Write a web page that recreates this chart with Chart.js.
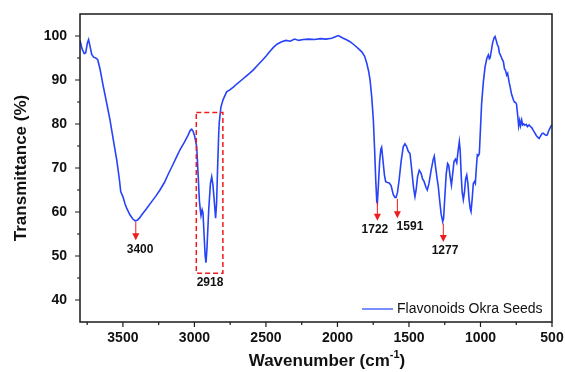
<!DOCTYPE html>
<html>
<head>
<meta charset="utf-8">
<script src="https://cdn.jsdelivr.net/npm/chart.js@4.4.0/dist/chart.umd.min.js"></script>
<style>
  html, body { margin: 0; padding: 0; background: #fff; }
  #wrap { width: 565px; height: 372px; }
</style>
</head>
<body>
<div id="wrap"><canvas id="ftir"></canvas></div>
<script>
// --- data ---
const wavenumbers = [
  3800, 3785, 3770, 3760, 3748, 3740, 3732, 3718, 3705, 3690, 3676, 3660, 3640, 3615, 3590, 3565,
  3543, 3525, 3515, 3500, 3485, 3473, 3450, 3430, 3415, 3400, 3385, 3365, 3334, 3300, 3270, 3241,
  3210, 3180, 3150, 3124, 3100, 3070, 3045, 3030, 3019, 3010, 2998, 2984, 2975, 2965, 2958, 2954,
  2946, 2940, 2932, 2925, 2919, 2912, 2900, 2888, 2879, 2870, 2860, 2852, 2845, 2838, 2830, 2826,
  2815, 2800, 2775, 2750, 2728, 2700, 2670, 2640, 2615, 2588, 2560, 2530, 2500, 2470, 2448, 2420,
  2390, 2360, 2330, 2300, 2270, 2240, 2200, 2160, 2120, 2080, 2040, 2010, 1995, 1982, 1960, 1940,
  1912, 1880, 1850, 1830, 1810, 1795, 1782, 1772, 1760, 1749, 1740, 1732, 1725, 1721, 1714, 1705,
  1697, 1691, 1684, 1672, 1663, 1650, 1638, 1625, 1610, 1598, 1590, 1580, 1568, 1555, 1540, 1528,
  1518, 1505, 1493, 1482, 1468, 1458, 1450, 1440, 1428, 1415, 1405, 1395, 1380, 1372, 1360, 1345,
  1330, 1323, 1315, 1305, 1295, 1285, 1275, 1264, 1258, 1250, 1240, 1230, 1222, 1212, 1203, 1195,
  1185, 1175, 1166, 1158, 1148, 1142, 1135, 1128, 1120, 1112, 1104, 1096, 1088, 1080, 1072, 1066,
  1058, 1050, 1042, 1036, 1028, 1022, 1015, 1008, 1000, 992, 980, 968, 955, 945, 938, 933,
  925, 915, 905, 898, 890, 882, 875, 868, 858, 850, 840, 832, 825, 817, 810, 800,
  793, 783, 775, 770, 763, 755, 748, 740, 733, 726, 720, 712, 705, 698, 690, 680,
  672, 660, 650, 642, 630, 620, 610, 600, 590, 580, 570, 561, 550, 540, 533, 525,
  515, 502
];
const transmittance = [
  99.0, 97.0, 96.0, 96.2, 98.5, 99.2, 98.0, 95.8, 95.2, 95.0, 94.6, 92.5, 89.0, 85.0, 80.9, 76.0,
  71.8, 67.5, 64.6, 63.5, 61.8, 60.8, 59.3, 58.4, 58.0, 58.1, 58.6, 59.5, 60.8, 62.3, 63.6, 65.0,
  66.7, 68.8, 70.8, 72.6, 74.2, 75.9, 77.4, 78.5, 78.8, 78.4, 77.2, 74.8, 69.0, 62.5, 60.2, 59.2,
  60.5, 59.8, 54.5, 50.0, 48.5, 52.0, 60.5, 66.5, 68.0, 66.0, 62.0, 58.6, 62.0, 70.0, 78.0, 80.5,
  83.8, 85.5, 87.3, 87.8, 88.4, 89.2, 90.0, 90.8, 91.5, 92.3, 93.3, 94.3, 95.4, 96.6, 97.4, 98.2,
  98.7, 99.0, 98.8, 99.3, 99.0, 99.2, 99.3, 99.2, 99.4, 99.3, 99.5, 99.9, 100.1, 99.9, 99.5, 99.2,
  98.7, 97.9, 97.0, 96.4, 95.4, 93.8, 92.0, 90.0, 86.0, 80.9, 74.0, 67.0, 62.3, 62.0, 66.0, 71.5,
  74.2, 74.7, 72.5, 68.5, 66.9, 66.7, 66.6, 66.0, 64.0, 63.3, 63.3, 64.5, 67.5, 71.5, 74.8, 75.5,
  75.0, 73.8, 73.3, 70.0, 65.5, 63.5, 65.0, 68.0, 69.5, 68.8, 67.5, 67.0, 65.5, 65.0, 66.5, 69.5,
  72.0, 72.7, 70.5, 68.0, 65.8, 62.5, 59.5, 57.8, 58.5, 63.0, 68.5, 71.0, 70.6, 68.0, 66.1, 68.5,
  71.5, 72.0, 71.2, 73.5, 76.0, 74.0, 68.5, 64.5, 62.8, 64.5, 67.5, 68.4, 66.5, 63.0, 60.8, 60.1,
  63.0, 66.5, 66.9, 66.5, 70.5, 73.0, 72.8, 73.3, 79.0, 84.7, 89.5, 93.0, 95.0, 95.7, 94.8, 95.0,
  96.5, 98.5, 99.6, 99.9, 99.0, 98.0, 97.6, 96.2, 95.5, 94.8, 94.2, 92.5, 92.2, 91.1, 91.5, 89.5,
  88.5, 86.8, 86.0, 85.5, 85.0, 84.9, 84.5, 82.0, 79.5, 80.8, 79.6, 80.9, 79.8, 80.0, 79.7, 79.9,
  79.4, 79.8, 79.4, 79.2, 78.5, 78.0, 77.4, 77.0, 76.7, 77.3, 77.8, 77.9, 77.6, 77.4, 77.5, 78.3,
  79.0, 79.8
];
const seriesLabel = 'Flavonoids Okra Seeds';

const xTicks = [3500, 3000, 2500, 2000, 1500, 1000, 500];
const xMinorTicks = [3750, 3250, 2750, 2250, 1750, 1250, 750];
const yTicks = [40, 50, 60, 70, 80, 90, 100];
const yMinorTicks = [45, 55, 65, 75, 85, 95];

// peak markers (arrow from top to bottom, label below), in data units
const peakLabels = ['3400', '1722', '1591', '1277'];
const peakArrowX = [3410, 1721, 1581, 1260];
const peakArrowTop = [57.8, 62.3, 63.0, 57.4];
const peakArrowBottom = [53.6, 58.0, 58.6, 53.2];
const peakLabelX = [3380, 1738, 1493, 1248];
const peakLabelY = [51.5, 55.9, 56.7, 51.2];

// dashed box round the C-H stretch
const boxX = [2987, 2801];
const boxY = [82.6, 46.1];
const boxLabel = '2918';
const boxLabelX = 2891;
const boxLabelY = 43.9;

const FONT = '"Liberation Sans", Arial, Helvetica, sans-serif';
const LINE_BLUE = '#2643f7';
const RED = '#ee1c1c';

// draws frame, ticks + labels, axis titles, annotations and the legend
const decorations = {
  id: 'decorations',
  afterDatasetsDraw(chart) {
    const { ctx, chartArea: a, scales: { x, y } } = chart;
    ctx.save();

    // frame
    ctx.strokeStyle = '#1a1a1a';
    ctx.lineWidth = 1.5;
    ctx.strokeRect(a.left, a.top, a.right - a.left, a.bottom - a.top);

    // ticks (outward)
    ctx.lineWidth = 1.2;
    ctx.beginPath();
    xTicks.forEach(v => { const px = x.getPixelForValue(v); ctx.moveTo(px, a.bottom); ctx.lineTo(px, a.bottom + 5); });
    xMinorTicks.forEach(v => { const px = x.getPixelForValue(v); ctx.moveTo(px, a.bottom); ctx.lineTo(px, a.bottom + 3); });
    yTicks.forEach(v => { const py = y.getPixelForValue(v); ctx.moveTo(a.left, py); ctx.lineTo(a.left - 5, py); });
    yMinorTicks.forEach(v => { const py = y.getPixelForValue(v); ctx.moveTo(a.left, py); ctx.lineTo(a.left - 3, py); });
    ctx.stroke();

    // tick labels
    ctx.fillStyle = '#111';
    ctx.font = `bold 14px ${FONT}`;
    ctx.textBaseline = 'middle';
    ctx.textAlign = 'center';
    xTicks.forEach(v => ctx.fillText(String(v), x.getPixelForValue(v), a.bottom + 16));
    ctx.textAlign = 'right';
    yTicks.forEach(v => ctx.fillText(String(v), a.left - 13, y.getPixelForValue(v)));

    // dashed box
    ctx.strokeStyle = RED;
    ctx.lineWidth = 1.5;
    ctx.setLineDash([5, 3]);
    const bx0 = x.getPixelForValue(boxX[0]), bx1 = x.getPixelForValue(boxX[1]);
    const by0 = y.getPixelForValue(boxY[0]), by1 = y.getPixelForValue(boxY[1]);
    ctx.strokeRect(bx0, by0, bx1 - bx0, by1 - by0);
    ctx.setLineDash([]);

    // arrows
    ctx.fillStyle = RED;
    ctx.lineWidth = 1;
    peakLabels.forEach((lbl, i) => {
      const px = x.getPixelForValue(peakArrowX[i]);
      const top = y.getPixelForValue(peakArrowTop[i]);
      const bot = y.getPixelForValue(peakArrowBottom[i]);
      ctx.beginPath();
      ctx.moveTo(px, top);
      ctx.lineTo(px, bot - 6);
      ctx.stroke();
      ctx.beginPath();
      ctx.moveTo(px - 3.5, bot - 7);
      ctx.lineTo(px + 3.5, bot - 7);
      ctx.lineTo(px, bot);
      ctx.closePath();
      ctx.fill();
    });

    // peak labels
    ctx.fillStyle = '#111';
    ctx.font = `bold 12px ${FONT}`;
    ctx.textAlign = 'center';
    peakLabels.forEach((lbl, i) => {
      ctx.fillText(lbl, x.getPixelForValue(peakLabelX[i]), y.getPixelForValue(peakLabelY[i]));
    });
    ctx.fillText(boxLabel, x.getPixelForValue(boxLabelX), y.getPixelForValue(boxLabelY));

    // legend, bottom right inside the frame
    const ly = a.bottom - 13;
    ctx.strokeStyle = LINE_BLUE;
    ctx.lineWidth = 1.2;
    ctx.beginPath();
    ctx.moveTo(a.right - 190, ly);
    ctx.lineTo(a.right - 159, ly);
    ctx.stroke();
    ctx.fillStyle = '#111';
    ctx.font = `14px ${FONT}`;
    ctx.textAlign = 'left';
    ctx.fillText(chart.data.datasets[0].label, a.right - 155, ly);

    // y title
    ctx.font = `bold 17px ${FONT}`;
    ctx.textAlign = 'center';
    ctx.save();
    ctx.translate(21, (a.top + a.bottom) / 2);
    ctx.rotate(-Math.PI / 2);
    ctx.fillText('Transmittance (%)', 0, 0);
    ctx.restore();

    // x title with superscript
    const main = 'Wavenumber (cm', sup = '-1', tail = ')';
    ctx.font = `bold 17px ${FONT}`;
    const wMain = ctx.measureText(main).width, wTail = ctx.measureText(tail).width;
    ctx.font = `bold 11px ${FONT}`;
    const wSup = ctx.measureText(sup).width;
    let tx = 327 - (wMain + wSup + wTail) / 2;
    const ty = 361;
    ctx.textAlign = 'left';
    ctx.font = `bold 17px ${FONT}`;
    ctx.fillText(main, tx, ty);
    tx += wMain;
    ctx.font = `bold 11px ${FONT}`;
    ctx.fillText(sup, tx, ty - 6);
    tx += wSup;
    ctx.font = `bold 17px ${FONT}`;
    ctx.fillText(tail, tx, ty);

    ctx.restore();
  }
};

new Chart(document.getElementById('ftir'), {
  type: 'line',
  data: {
    datasets: [{
      label: seriesLabel,
      data: wavenumbers.map((w, i) => ({ x: w, y: transmittance[i] })),
      borderColor: LINE_BLUE,
      borderWidth: 1.6,
      pointRadius: 0,
      tension: 0,
      fill: false
    }]
  },
  options: {
    responsive: true,
    maintainAspectRatio: false,
    animation: false,
    layout: { padding: { top: 14, right: 13, left: 0, bottom: 0 } },
    plugins: { legend: { display: false }, tooltip: { enabled: false } },
    scales: {
      x: {
        type: 'linear',
        reverse: true,
        min: 500,
        max: 3800,
        afterFit: s => { s.height = 50; },
        grid: { display: false, drawTicks: false },
        border: { display: false },
        ticks: { display: false }
      },
      y: {
        min: 35,
        max: 105,
        afterFit: s => { s.width = 80; },
        grid: { display: false, drawTicks: false },
        border: { display: false },
        ticks: { display: false }
      }
    }
  },
  plugins: [decorations]
});
</script>
</body>
</html>
